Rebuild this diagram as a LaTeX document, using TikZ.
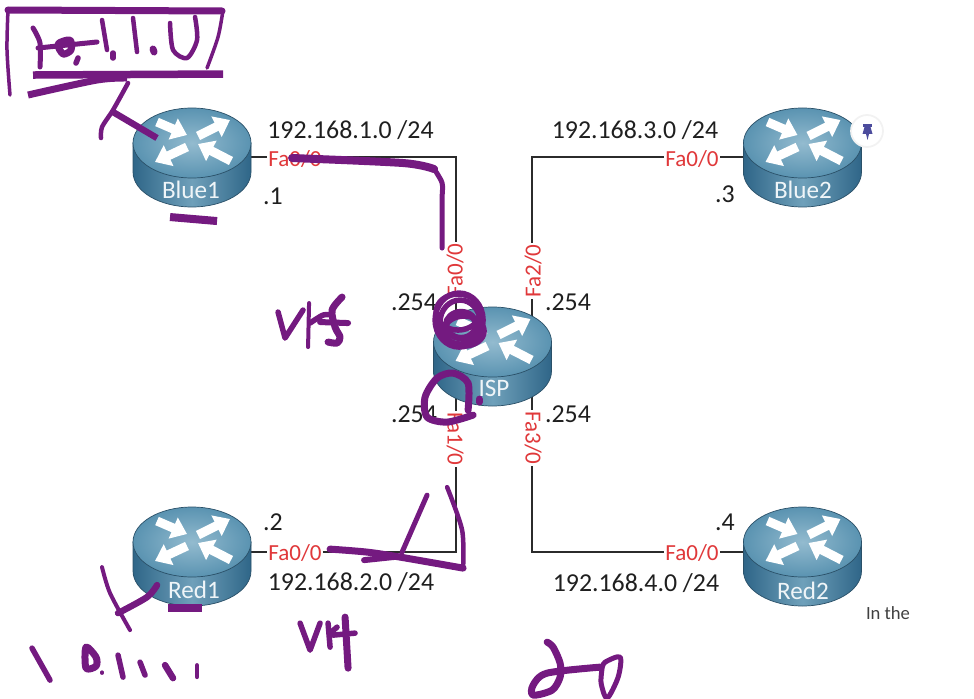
\documentclass[tikz,border=0pt]{standalone}
\usepackage{fontspec}
\setmainfont{Carlito}
\usetikzlibrary{arrows.meta,shapes.geometric}
\definecolor{inkcol}{HTML}{741A80}
\definecolor{portred}{HTML}{E0383A}
\definecolor{wirecol}{HTML}{2B2B2B}
\definecolor{sidedark}{HTML}{2F6688}
\definecolor{sidelight}{HTML}{6FA0BA}
\definecolor{topedge}{HTML}{5A93B1}
\definecolor{topmid}{HTML}{93BBCF}
\definecolor{rimcol}{HTML}{2A5068}
\tikzset{
  routerbody/.style={ellipse,inner sep=0pt,outer sep=0pt,minimum width=2.36cm,minimum height=1.98cm},
  routername/.style={text=white!85!topmid,font=\fontsize{14.3}{16}\selectfont},
  wire/.style={wirecol,line width=0.04cm},
  port/.style={text=portred,fill=white,inner sep=0.8pt,font=\fontsize{13.1}{15}\selectfont},
  netlabel/.style={text=black!88,font=\fontsize{14.7}{17}\selectfont},
  ink/.style={inkcol,line cap=round,line join=round,line width=0.11cm},
  routerarrow/.style={white,line width=0.18cm,-{Triangle[width=0.44cm,length=0.30cm]}},
  pics/router/.style={code={
    \draw[draw=rimcol,line width=0.4pt,left color=sidedark,right color=sidedark,middle color=sidelight]
      (-1.18,0) -- (-1.18,-0.58) arc (180:360:1.18 and 0.70) -- (1.18,0) -- cycle;
    \draw[draw=rimcol,line width=0.4pt,inner color=topmid,outer color=topedge] (0,0) ellipse (1.18 and 0.70);
    \draw[routerarrow] (-0.70,0.42) -- (-0.10,0.16);
    \draw[routerarrow] (0.12,0.14) -- (0.76,0.46);
    \draw[routerarrow] (-0.10,-0.08) -- (-0.74,-0.38);
    \draw[routerarrow] (0.78,-0.36) -- (0.12,-0.02);
  }}
}
\begin{document}
\begin{tikzpicture}
  \useasboundingbox (0,0) rectangle (19.48,13.96);
  % ===================== routers =====================
  \node[routerbody] (blueone) at (3.84,10.81) {};
  \node[routerbody] (bluetwo) at (16.05,10.81) {};
  \node[routerbody] (isp) at (9.85,6.84) {};
  \node[routerbody] (redone) at (3.84,2.92) {};
  \node[routerbody] (redtwo) at (16.05,2.92) {};
  \coordinate (ispfazero) at (9.12,6.84);
  \coordinate (ispfaone) at (9.12,6.80);
  \coordinate (ispfatwo) at (10.64,6.84);
  \coordinate (ispfathree) at (10.64,6.80);
  % ===================== wires =====================
  \draw[wire] (blueone.east) -| (ispfazero);
  \draw[wire] (bluetwo.west) -| (ispfatwo);
  \draw[wire] (redone.east) -| (ispfaone);
  \draw[wire] (redtwo.west) -| (ispfathree);
  % ===================== ports =====================
  \node[port] (blueoneport) at (5.90,10.78) {Fa0/0};
  \node[port] (bluetwoport) at (13.84,10.78) {Fa0/0};
  \node[port] (redoneport) at (5.90,2.90) {Fa0/0};
  \node[port] (redtwoport) at (13.84,2.90) {Fa0/0};
  \node[port,rotate=90] (ispportzero) at (9.10,8.56) {Fa0/0};
  \node[port,rotate=90] (ispporttwo) at (10.66,8.54) {Fa2/0};
  \node[port,rotate=-90] (ispportone) at (9.10,5.18) {Fa1/0};
  \node[port,rotate=-90] (ispportthree) at (10.66,5.20) {Fa3/0};
  % ===================== bodies =====================
  \pic at ([yshift=0.29cm]blueone) {router};
  \pic at ([yshift=0.29cm]bluetwo) {router};
  \pic at ([yshift=0.28cm]isp) {router};
  \pic at ([yshift=0.20cm]redone) {router};
  \pic at ([yshift=0.20cm]redtwo) {router};
  \node[routername] (blueonename) at (3.82,10.16) {Blue1};
  \node[routername] (bluetwoname) at (16.06,10.16) {Blue2};
  \node[routername] (ispname) at (9.88,6.20) {ISP};
  \node[routername] (redonename) at (3.88,2.16) {Red1};
  \node[routername] (redtwoname) at (16.06,2.14) {Red2};
  % ===================== addresses =====================
  \node[netlabel] (netone) at (7.01,11.36) {192.168.1.0 /24};
  \node[netlabel] (netthree) at (12.70,11.36) {192.168.3.0 /24};
  \node[netlabel] (nettwo) at (7.02,2.32) {192.168.2.0 /24};
  \node[netlabel] (netfour) at (12.72,2.30) {192.168.4.0 /24};
  \node[netlabel] (hostone) at (5.46,10.04) {.1};
  \node[netlabel] (hostthree) at (14.50,10.08) {.3};
  \node[netlabel] (hosttwo) at (5.46,3.52) {.2};
  \node[netlabel] (hostfour) at (14.50,3.52) {.4};
  \node[netlabel] (ispa) at (8.28,7.92) {.254};
  \node[netlabel] (ispb) at (11.36,7.92) {.254};
  \node[netlabel] (ispc) at (8.28,5.68) {.254};
  \node[netlabel] (ispd) at (11.36,5.68) {.254};
  \node[text=black!75,font=\fontsize{10.6}{12}\selectfont] (cutoff) at (17.76,1.70) {In the};
  % pin badge
  \node[circle,fill=white,draw=black!5,line width=1pt,minimum size=0.64cm,inner sep=0pt] (pinbadge) at (17.34,11.34) {};
  \fill[blue!45!black!70!white] (17.26,11.48) rectangle (17.44,11.42);
  \fill[blue!45!black!70!white] (17.29,11.42) -- (17.41,11.42) -- (17.45,11.28) -- (17.25,11.28) -- cycle;
  \fill[blue!45!black!70!white] (17.32,11.28) -- (17.38,11.28) -- (17.35,11.16) -- cycle;
  % ===================== handwriting =====================
  \begin{scope}[x=0.02cm,y=-0.02cm,yshift=13.96cm]
    % box round the note
    \draw[ink,line width=0.14cm] (8,10) -- (222,11);
    \draw[ink,line width=0.07cm] plot[smooth] coordinates {(8,10) (7,50) (10,95)};
    \draw[ink,line width=0.07cm] plot[smooth] coordinates {(223,10) (218,37) (207,68)};
    \draw[ink,line width=0.15cm,line cap=butt] (33,75) -- (223,74);
    \draw[ink,line width=0.14cm,line cap=butt] plot[smooth] coordinates {(28,95) (97,80) (127,78)};
    % note text
    \draw[ink,line width=0.1cm] plot[smooth] coordinates {(33,28) (40,43) (40,67)};
    \draw[ink,line width=0.1cm] (38,48) -- (97,42);
    \draw[ink,line width=0.14cm] plot[smooth cycle] coordinates {(58,44) (70,40) (71,50) (63,54)};
    \draw[ink] (78,58) -- (76,63);
    \draw[ink,line width=0.09cm] (102,20) -- (107,50);
    \draw[ink] (113,53) -- (113,58);
    \draw[ink,line width=0.09cm] (133,18) -- (137,52);
    \draw[ink,line width=0.14cm] (153,49) -- (154,52);
    \draw[ink,line width=0.09cm] plot[smooth] coordinates {(170,23) (173,50) (187,58) (197,40) (195,17)};
    % leader to blue router
    \draw[ink,line width=0.09cm] plot[smooth] coordinates {(128,83) (113,110) (102,127) (101,138)};
    \draw[ink,line width=0.13cm,line cap=butt] (113,112) -- (157,138);
    \draw[ink,line width=0.16cm,line cap=butt] (170,217) -- (217,221);
    % blue path
    \draw[ink,line width=0.16cm] plot[smooth] coordinates {(292,158) (403,163) (434,169)};
    \draw[ink,line width=0.1cm] plot[smooth] coordinates {(434,169) (442,183) (442,200) (442,248)};
    % vrf upper
    \draw[ink] (278,312) -- (285,338) -- (303,310);
    \draw[ink,line width=0.08cm] (309,303) -- (308,347);
    \draw[ink] plot[smooth] coordinates {(310,323) (323,315) (332,315)};
    \draw[ink,line width=0.14cm] plot[smooth] coordinates {(342,297) (332,310) (335,327) (340,337) (337,343) (328,342)};
    \draw[ink,line width=0.12cm] (320,322) -- (348,323);
    % loops on isp
    \draw[ink] (459,320) ellipse (24 and 27);
    \draw[ink] (460,322) ellipse (20 and 22);
    \draw[ink,line width=0.13cm] (461,325) ellipse (15 and 13);
    \draw[ink] (458,312) ellipse (22 and 18);
    \draw[ink] (464,331) ellipse (20 and 15);
    \draw[ink,line width=0.14cm] plot[smooth] coordinates {(468,410) (468,383) (453,373) (437,378) (425,397) (427,417) (447,422) (473,415)};
    \draw[ink,line width=0.14cm] (479,399) -- (479,402);
    % red path
    \draw[ink,line width=0.14cm] plot[smooth] coordinates {(330,549) (367,552) (400,557) (463,568)};
    \draw[ink,line width=0.12cm] (364,560) -- (402,556);
    \draw[ink,line width=0.09cm] plot[smooth] coordinates {(463,568) (462,530) (447,487)};
    \draw[ink,line width=0.1cm] (402,552) -- (427,495);
    % leader to red router
    \draw[ink,line width=0.08cm] plot[smooth] coordinates {(102,567) (110,593) (130,630)};
    \draw[ink,line width=0.13cm] plot[smooth] coordinates {(157,585) (147,597) (118,613)};
    \draw[ink,line width=0.15cm,line cap=butt] (168,608) -- (202,608);
    % note under red
    \draw[ink] (32,648) -- (50,680);
    \draw[ink,line width=0.14cm] plot[smooth cycle] coordinates {(86,647) (86,668) (96,666) (96,657)};
    \draw[ink,line width=0.07cm] (102,672) -- (102,673);
    \draw[ink] (118,655) -- (123,677);
    \draw[ink] (140,662) -- (145,675);
    \draw[ink,line width=0.13cm] (165,665) -- (173,678);
    \draw[ink,line width=0.08cm] (197,665) -- (197,677);
    % vrf lower
    \draw[ink] (300,623) -- (310,650) -- (320,623);
    \draw[ink] (328,623) -- (330,647);
    \draw[ink] (330,633) -- (337,627);
    \draw[ink,line width=0.14cm] (345,617) -- (348,668);
    \draw[ink] (333,635) -- (355,633);
    % scribble at the bottom
    \draw[ink,line width=0.14cm] plot[smooth] coordinates {(547,642) (553,647) (560,663) (560,677) (552,690) (533,695) (533,685) (547,673) (600,667)};
    \draw[ink,line width=0.1cm] plot[smooth] coordinates {(602,668) (605,662) (620,657) (618,677) (607,698) (601,683) (602,668)};
  \end{scope}
\end{tikzpicture}
\end{document}
